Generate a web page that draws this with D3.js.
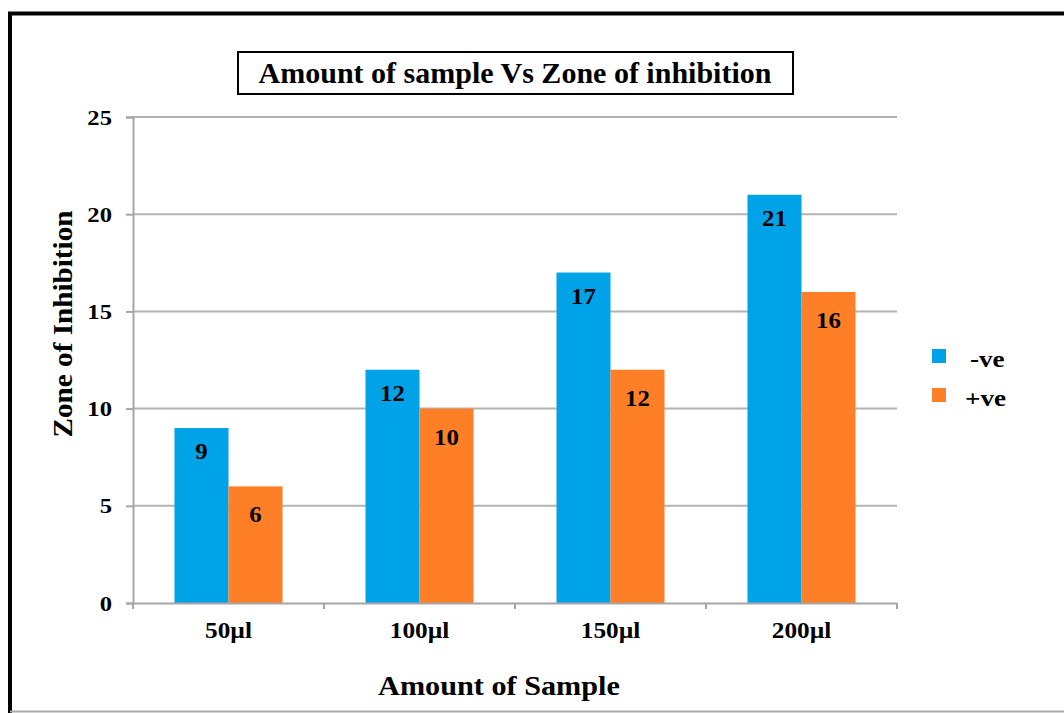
<!DOCTYPE html>
<html><head><meta charset="utf-8">
<script src="https://cdn.jsdelivr.net/npm/d3@7"></script>
<style>body{margin:0;background:#fff;}svg{display:block;font-family:"Liberation Serif","Times New Roman",serif;}</style>
</head><body><svg id="c" width="1064" height="713"></svg>
<script>
const categories = ["50µl","100µl","150µl","200µl"];
const seriesNames = ["-ve","+ve"];
const negValues = [9,12,17,21];
const posValues = [6,10,12,16];
const yTicks = [0,5,10,15,20,25];
const colors = ["#00a2e8","#ff7f27"];

(function(){
const svg = d3.select("#c");
// outer frame (left and top black, bottom cut)
svg.append("path").attr("d","M10,713 L10,13.5 L1064,13.5").attr("fill","none")
  .attr("stroke","#000").attr("stroke-width",4);
svg.append("line").attr("x1",10).attr("x2",1064).attr("y1",711.5).attr("y2",711.5).attr("stroke","#aaa").attr("stroke-width",2);

const pL=133,pR=897,pT=117,pB=603;
const x = d3.scaleBand().domain(categories).range([pL,pR]).paddingInner(0).paddingOuter(0);
const y = d3.scaleLinear().domain([0,25]).range([pB,pT]);

function txt(g, tx, ty, size, sx, anchor, s){
  return g.append("text").attr("transform",`translate(${tx},${ty}) scale(${sx},1)`)
    .attr("text-anchor",anchor).attr("font-size",size).attr("font-weight","bold")
    .attr("font-family","'Liberation Serif','Times New Roman',serif")
    .attr("fill","#000").text(s);
}

// gridlines
svg.append("g").selectAll("line").data(yTicks.filter(d=>d>0)).join("line")
  .attr("x1",pL).attr("x2",pR).attr("y1",d=>y(d)).attr("y2",d=>y(d))
  .attr("stroke","#b3b3b3").attr("stroke-width",2);

// y axis
const yAxis = d3.axisLeft(y).tickValues(yTicks).tickSize(7).tickFormat("");
const yg = svg.append("g").attr("transform",`translate(${pL},0)`).call(yAxis);
yg.select(".domain").attr("stroke","#a6a6a6").attr("stroke-width",2);
yg.selectAll(".tick line").attr("stroke","#a6a6a6").attr("stroke-width",2);
yg.selectAll(".tick").each(function(d){
  txt(d3.select(this), -21, 7, 22, 1.12, "end", d3.format("d")(d));
});

// bars
const data = categories.map((c,i)=>({c, vals:[negValues[i],posValues[i]]}));
const groups = svg.append("g").selectAll("g").data(data).join("g")
  .attr("transform",d=>`translate(${x(d.c)},0)`);
const bw = 54;
const off = (x.bandwidth()-2*bw)/2;
const labelDrop = [31, 36];
groups.each(function(d){
  const g = d3.select(this);
  d.vals.forEach((v,j)=>{
    g.append("rect").attr("x",off+j*bw).attr("width",bw)
      .attr("y",y(v)).attr("height",y(0)-y(v)).attr("fill",colors[j]);
    txt(g, off+j*bw+bw/2, y(v)+labelDrop[j], 23, 1.08, "middle", v);
  });
});

// x axis
const xAxis = d3.axisBottom(x).tickSize(0).tickFormat("");
const xg = svg.append("g").attr("transform",`translate(0,${pB})`).call(xAxis);
xg.select(".domain").attr("stroke","#a6a6a6").attr("stroke-width",2);
xg.selectAll(".tick").each(function(d){
  txt(d3.select(this), 0, 35, 23, 1.1, "middle", d);
});
xg.append("g").selectAll("line").data(d3.range(categories.length+1)).join("line")
  .attr("x1",i=>pL+i*x.bandwidth()).attr("x2",i=>pL+i*x.bandwidth())
  .attr("y1",0).attr("y2",6).attr("stroke","#a6a6a6").attr("stroke-width",2);

// title
svg.append("rect").attr("x",238).attr("y",52).attr("width",555).attr("height",42)
  .attr("fill","#fff").attr("stroke","#000").attr("stroke-width",2);
txt(svg, 515, 83, 30, 1.0, "middle", "Amount of sample Vs Zone of inhibition");

// axis titles
txt(svg, 499, 695, 27, 1.12, "middle", "Amount of Sample");
svg.append("text").attr("transform","translate(72,324) rotate(-90) scale(1.08,1)").attr("text-anchor","middle")
  .attr("font-size",27).attr("font-weight","bold").text("Zone of Inhibition");

// legend
const lg = svg.append("g").selectAll("g").data(seriesNames).join("g")
  .attr("transform",(d,i)=>`translate(932,${349+i*39})`);
lg.append("rect").attr("width",14).attr("height",14).attr("fill",(d,i)=>colors[i]);
lg.each(function(d,i){ txt(d3.select(this), i===0?38:33, 18, 23, 1.18, "start", d); });
})();
</script></body></html>
